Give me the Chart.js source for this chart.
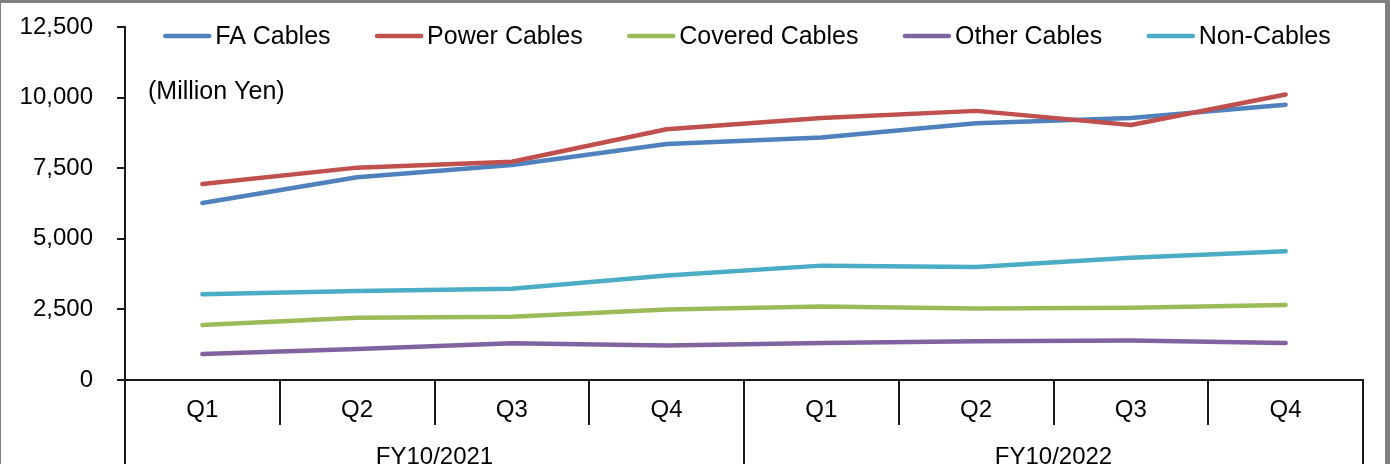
<!DOCTYPE html>
<html>
<head>
<meta charset="utf-8">
<script src="https://cdn.jsdelivr.net/npm/chart.js@4/dist/chart.umd.min.js"></script>
<style>
  html, body { margin: 0; padding: 0; background: #fff; overflow: hidden; }
  #wrap { position: absolute; left: 0; top: 0; width: 1390px; height: 485px; }
  #frame {
    position: fixed; left: 0; top: 0; width: 1390px; height: 464px;
    box-sizing: border-box; pointer-events: none;
    border-top: 3px solid #808080; border-left: 1px solid #808080; border-right: 5px solid #808080;
  }
</style>
</head>
<body>
<div id="wrap"><canvas id="salesChart" width="1390" height="485"></canvas></div>
<div id="frame"></div>
<script>
const quarters = ["Q1", "Q2", "Q3", "Q4", "Q1", "Q2", "Q3", "Q4"];
const fiscalYears = ["FY10/2021", "FY10/2022"];

const faCables = [6270, 7180, 7610, 8360, 8590, 9090, 9280, 9750];
const powerCables = [6940, 7520, 7730, 8880, 9280, 9530, 9030, 10110];
const coveredCables = [1950, 2200, 2240, 2500, 2600, 2530, 2560, 2660];
const otherCables = [920, 1100, 1300, 1220, 1310, 1370, 1400, 1310];
const nonCables = [3040, 3150, 3230, 3700, 4050, 4000, 4330, 4560];

const yTicks = [0, 2500, 5000, 7500, 10000, 12500];
const unitLabel = "(Million Yen)";

const FONT = '"Liberation Sans", Arial, sans-serif';
const AXIS = "#1a1a1a";

function line(label, data, color, order) {
  return {
    label: label,
    data: data,
    borderColor: color,
    backgroundColor: color,
    borderWidth: 4.5,
    borderCapStyle: "round",
    borderJoinStyle: "round",
    pointRadius: 0,
    tension: 0,
    order: order,
    xAxisID: "x",
  };
}

// legend in one row, short line + text, like the original sheet
const legendPlugin = {
  id: "rowLegend",
  afterDraw(chart) {
    const ctx = chart.ctx;
    const area = chart.chartArea;
    ctx.save();
    ctx.font = "25px " + FONT;
    ctx.textBaseline = "middle";
    ctx.textAlign = "left";
    const lineW = 48, gap = 4, itemGap = 44.5;
    const items = chart.data.datasets.map((ds) => ({
      ds: ds,
      w: lineW + gap + ctx.measureText(ds.label).width,
    }));
    let total = items.reduce((s, it) => s + it.w, 0) + itemGap * (items.length - 1);
    let x = (area.left + area.right) / 2 + 3 - total / 2;
    const y = 36;
    items.forEach((it) => {
      ctx.strokeStyle = it.ds.borderColor;
      ctx.lineWidth = 4.5;
      ctx.lineCap = "round";
      ctx.beginPath();
      ctx.moveTo(x + 2, y);
      ctx.lineTo(x + lineW - 2, y);
      ctx.stroke();
      ctx.fillStyle = "#000";
      ctx.fillText(it.ds.label, x + lineW + gap, y + 1);
      x += it.w + itemGap;
    });
    ctx.fillText(unitLabel, area.left + 23, 92);
    ctx.restore();
  },
};

new Chart(document.getElementById("salesChart"), {
  type: "line",
  data: {
    labels: quarters,
    datasets: [
      line("FA Cables", faCables, "#4F81BD", 1),
      line("Power Cables", powerCables, "#C0504D", 0),
      line("Covered Cables", coveredCables, "#9BBB59", 2),
      line("Other Cables", otherCables, "#8064A2", 4),
      line("Non-Cables", nonCables, "#4BACC6", 3),
    ],
  },
  options: {
    responsive: false,
    animation: false,
    locale: "en-US",
    layout: { padding: { top: 27, right: 27, left: 0, bottom: 0 } },
    plugins: {
      legend: { display: false },
      tooltip: { enabled: false },
    },
    scales: {
      y: {
        min: 0,
        max: 12500,
        afterFit: (scale) => {
          scale.width = 125;
          // tick padding should not push the plot area down
          scale.paddingTop = 0;
          scale.paddingBottom = 0;
        },
        afterBuildTicks: (scale) => { scale.ticks = yTicks.map((v) => ({ value: v })); },
        ticks: {
          color: "#000",
          font: { family: FONT, size: 24 },
          padding: 24,
          callback: (v) => v.toLocaleString("en-US"),
        },
        grid: { drawOnChartArea: false, tickLength: 8, color: AXIS, lineWidth: 2 },
        border: { display: true, color: AXIS, width: 2 },
      },
      x: {
        position: "bottom",
        weight: 0,
        offset: true,
        afterFit: (scale) => { scale.height = 45; },
        ticks: {
          color: "#000",
          font: { family: FONT, size: 24 },
          padding: -29,
          autoSkip: false,
          maxRotation: 0,
        },
        grid: { offset: true, drawOnChartArea: false, tickLength: 45, color: AXIS, lineWidth: 2 },
        border: { display: true, color: AXIS, width: 2 },
      },
      x2: {
        type: "category",
        labels: fiscalYears,
        position: "bottom",
        weight: 1,
        offset: true,
        afterFit: (scale) => { scale.height = 60; },
        ticks: {
          color: "#000",
          font: { family: FONT, size: 24 },
          padding: -42,
          autoSkip: false,
          maxRotation: 0,
        },
        grid: { offset: true, drawOnChartArea: false, tickLength: 60, color: AXIS, lineWidth: 2 },
        border: { display: false },
      },
    },
  },
  plugins: [legendPlugin],
});
</script>
</body>
</html>
